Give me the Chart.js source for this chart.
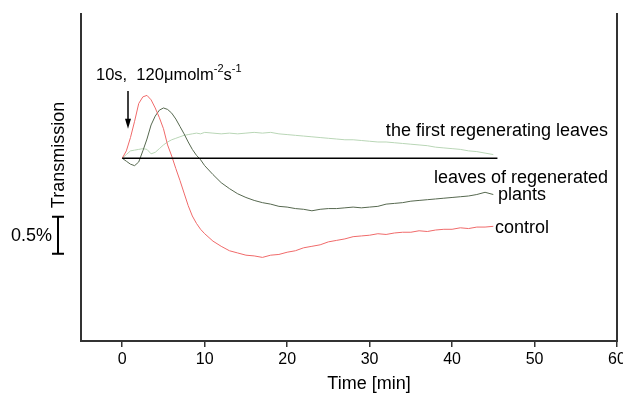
<!DOCTYPE html>
<html>
<head>
<meta charset="utf-8">
<script src="https://cdn.jsdelivr.net/npm/chart.js@4/dist/chart.umd.min.js"></script>
<style>
  html, body { margin: 0; padding: 0; background: #fff; }
  #wrap { width: 623px; height: 394px; }
</style>
</head>
<body>
<div id="wrap"><canvas id="chart"></canvas></div>
<script>
// Data (time in min, transmission change in %)

const times = [0, 0.5, 1, 1.5, 2, 2.5, 3, 3.5, 4, 4.5, 5, 5.5, 6, 6.5, 7, 7.5, 8, 8.5, 9, 9.5, 10,
    11, 12, 13, 14, 15, 16, 17, 18, 19, 20, 21, 22, 23, 24, 25, 26, 27, 28, 29, 30,
    31, 32, 33, 34, 35, 36, 37, 38, 39, 40, 41, 42, 43, 44, 45];

const controlValues = [0, 0.1, 0.28, 0.5, 0.74, 0.83, 0.85, 0.79, 0.68, 0.55, 0.4, 0.18, 0.03, -0.14, -0.3, -0.47, -0.64, -0.78, -0.88, -0.96, -1.02,
    -1.12, -1.19, -1.25, -1.28, -1.31, -1.32, -1.34, -1.31, -1.3, -1.27, -1.25, -1.21, -1.19, -1.17, -1.13, -1.11, -1.09, -1.06, -1.05, -1.04,
    -1.02, -1.03, -1.01, -1.0, -1.0, -0.98, -0.99, -0.97, -0.96, -0.96, -0.94, -0.95, -0.93, -0.93, -0.92];

const regeneratedValues = [0, -0.04, -0.08, -0.1, -0.05, 0.1, 0.26, 0.45, 0.57, 0.65, 0.68, 0.66, 0.61, 0.53, 0.43, 0.33, 0.22, 0.12, 0.04, -0.02, -0.1,
    -0.22, -0.33, -0.41, -0.48, -0.53, -0.57, -0.6, -0.62, -0.65, -0.66, -0.68, -0.69, -0.71, -0.69, -0.68, -0.68, -0.67, -0.66, -0.67, -0.66,
    -0.65, -0.62, -0.61, -0.6, -0.58, -0.57, -0.56, -0.55, -0.54, -0.53, -0.52, -0.51, -0.49, -0.46, -0.49];

const firstRegenValues = [0, 0.05, 0.1, 0.11, 0.12, 0.13, 0.12, 0.06, 0.08, 0.13, 0.18, 0.22, 0.25, 0.27, 0.29, 0.31, 0.32, 0.33, 0.34, 0.33, 0.35,
    0.34, 0.33, 0.34, 0.33, 0.34, 0.35, 0.34, 0.35, 0.33, 0.32, 0.31, 0.3, 0.29, 0.28, 0.27, 0.26, 0.25, 0.25, 0.24, 0.23,
    0.22, 0.22, 0.21, 0.2, 0.19, 0.18, 0.17, 0.15, 0.14, 0.13, 0.12, 0.1, 0.09, 0.07, 0.05];

const baselineTimes = [0, 45.5];
const baselineValues = [0, 0];

const xTicks = [0, 10, 20, 30, 40, 50, 60];

const FONT = "'Liberation Sans', Arial, sans-serif";

const toPoints = (xs, ys) => xs.map((x, i) => ({ x: x, y: ys[i] }));

// Annotations drawn on top

const annotations = {
    id: "annotations",
    afterDraw(chart) {
        const c = chart.ctx;
        const x = chart.scales.x;
        const y = chart.scales.y;
        c.save();
        c.fillStyle = "#000";
        c.strokeStyle = "#000";
        c.textBaseline = "middle";

        // curve labels
        c.font = "18px " + FONT;
        c.textAlign = "right";
        c.fillText("the first regenerating leaves", 608, 131);
        c.fillText("leaves of regenerated", 608, 178);
        c.textAlign = "left";
        c.fillText("plants", 498, 195);
        c.fillText("control", 495, 228);

        // x title (sits right of centre in the original)
        c.textAlign = "center";
        c.fillText("Time [min]", 369, 384);

        // light pulse text
        let px = 96;
        const py = 75;
        c.textAlign = "left";
        c.font = "16.5px " + FONT;
        const main = "10s,  120\u03bcmolm";
        c.fillText(main, px, py);
        px += c.measureText(main).width;
        c.font = "11px " + FONT;
        c.fillText("-2", px, py - 6);
        px += c.measureText("-2").width;
        c.font = "16.5px " + FONT;
        c.fillText("s", px, py);
        px += c.measureText("s").width;
        c.font = "11px " + FONT;
        c.fillText("-1", px, py - 6);

        // arrow
        const ax = x.getPixelForValue(0.7);
        const aTop = y.getPixelForValue(0.91);
        const aBot = y.getPixelForValue(0.4);
        c.lineWidth = 1.5;
        c.beginPath();
        c.moveTo(ax, aTop);
        c.lineTo(ax, aBot - 8);
        c.stroke();
        c.beginPath();
        c.moveTo(ax - 3, aBot - 10);
        c.lineTo(ax + 3, aBot - 10);
        c.lineTo(ax, aBot);
        c.closePath();
        c.fill();

        // y title
        c.save();
        c.translate(59, 155);
        c.rotate(-Math.PI / 2);
        c.textAlign = "center";
        c.font = "18px " + FONT;
        c.fillText("Transmission", 0, 0);
        c.restore();

        // 0.5% scale bar
        const bx = 58;
        const bTop = y.getPixelForValue(-0.79);
        const bBot = y.getPixelForValue(-1.29);
        c.lineWidth = 2;
        c.beginPath();
        c.moveTo(bx, bTop);
        c.lineTo(bx, bBot);
        c.moveTo(bx - 6, bTop);
        c.lineTo(bx + 6, bTop);
        c.moveTo(bx - 6, bBot);
        c.lineTo(bx + 6, bBot);
        c.stroke();
        c.font = "18px " + FONT;
        c.textAlign = "right";
        c.fillText("0.5%", 52, (bTop + bBot) / 2 + 1);

        c.restore();
    }
};

const ctx = document.querySelector("#chart");

const chart = new Chart(ctx, {
    type: "line",
    data: {
        datasets: [
            {
                label: "baseline",
                data: toPoints(baselineTimes, baselineValues),
                borderColor: "#000",
                borderWidth: 1.5,
                pointRadius: 0,
            },
            {
                label: "control",
                data: toPoints(times, controlValues),
                borderColor: "#f06a6a",
                borderWidth: 1,
                pointRadius: 0,
            },
            {
                label: "leaves of regenerated plants",
                data: toPoints(times, regeneratedValues),
                borderColor: "#56684f",
                borderWidth: 1,
                pointRadius: 0,
            },
            {
                label: "the first regenerating leaves",
                data: toPoints(times, firstRegenValues),
                borderColor: "#b9d6b6",
                borderWidth: 1,
                pointRadius: 0,
            },
        ]
    },
    options: {
        responsive: true,
        maintainAspectRatio: false,
        animation: false,
        layout: {
            padding: { left: 81, right: 6, top: 14, bottom: 0 }
        },
        plugins: {
            legend: { display: false },
            tooltip: false,
        },
        scales: {
            x: {
                type: "linear",
                min: -5,
                max: 60,
                afterBuildTicks: (s) => { s.ticks = xTicks.map(v => ({ value: v })); },
                afterFit: (s) => { s.paddingRight = 0; s.paddingLeft = 0; s.height = 53; },
                border: { display: true, color: "#333", width: 2 },
                grid: { drawOnChartArea: false, drawTicks: true, tickLength: 6, tickColor: "#333", lineWidth: 1.5 },
                ticks: { color: "#000", font: { family: FONT, size: 16 }, padding: 3, maxRotation: 0 },
                title: { display: false }
            },
            y: {
                type: "linear",
                min: -2.47,
                max: 1.95,
                afterFit: (s) => { s.width = 0; },
                border: { display: true, color: "#333", width: 2 },
                grid: { display: false },
                ticks: { display: false }
            },
            y2: {
                type: "linear",
                position: "right",
                min: -2.47,
                max: 1.95,
                afterFit: (s) => { s.width = 0; },
                border: { display: true, color: "#333", width: 2 },
                grid: { display: false },
                ticks: { display: false }
            }
        }
    },
    plugins: [annotations]
});
</script>
</body>
</html>
